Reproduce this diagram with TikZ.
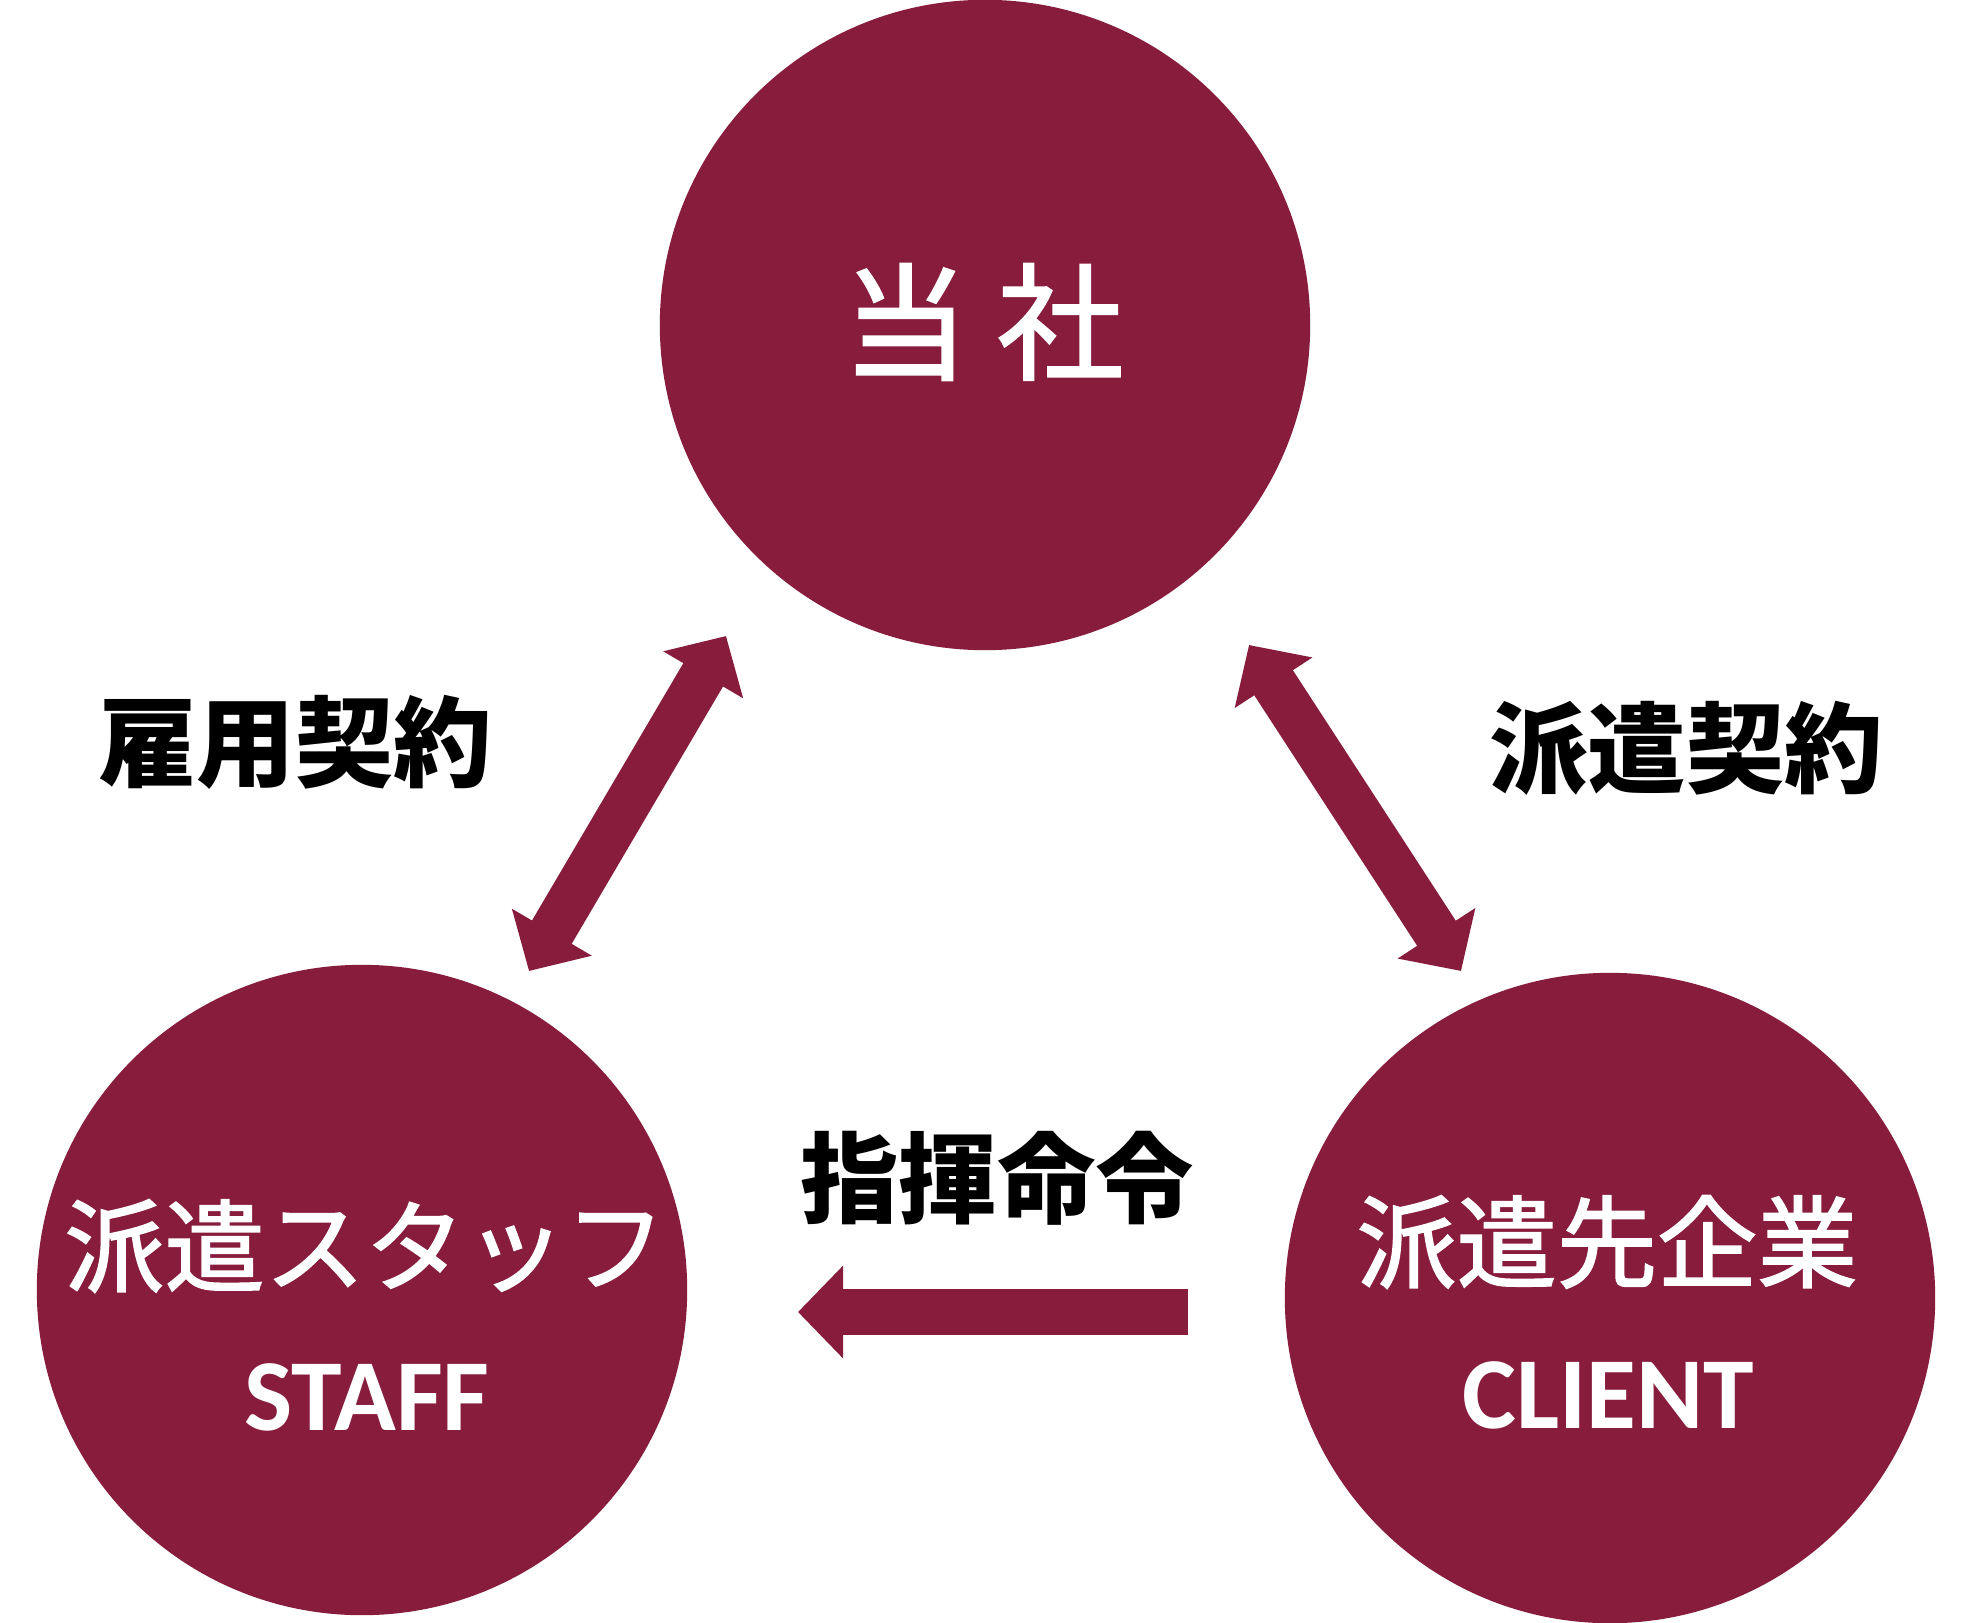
\documentclass[tikz,border=0pt]{standalone}
\usepackage{fontspec}
\usetikzlibrary{arrows.meta}
\newfontfamily\jpfont[FakeBold=1.6]{Noto Sans CJK JP}
\newfontfamily\jplabel{Noto Sans CJK JP}
\newfontfamily\enfont{Carlito}
\definecolor{wine}{RGB}{135,28,60}
\tikzset{
  disc/.style={circle, fill=wine, minimum size=6.5cm, inner sep=0pt},
  intext/.style={white, inner sep=0pt},
  outtext/.style={black, inner sep=0pt, font=\jplabel\bfseries\fontsize{28}{28}\selectfont},
  bigtip/.tip={Triangle[length=0.45cm, width=0.9cm]},
  bigarrow/.style={wine, line width=0.46cm, -bigtip},
  dblarrow/.style={wine, line width=0.46cm, bigtip-bigtip}
}

\begin{document}
\begin{tikzpicture}[x=0.01cm, y=-0.01cm]
\fill [white] (0,0) rectangle (1980,1622);
\useasboundingbox (0,0) rectangle (1980,1622);

% the three parties
\node [disc] (tosha) at (985,325) {};
\node [disc] (staff) at (362,1290) {};
\node [disc] (client) at (1610,1298) {};

\node [intext, font=\jpfont\fontsize{36}{36}\selectfont] (toshatxt) at (983,322) {当\hspace{0.28cm}社};
\node [intext, font=\jpfont\fontsize{28.5}{28.5}\selectfont] (stafftxt) at (365,1246) {派遣スタッフ};
\node [intext, font=\enfont\bfseries\fontsize{29}{29}\selectfont] (staffen) at (367,1397) {STAFF};
\node [intext, font=\jpfont\fontsize{28.5}{28.5}\selectfont] (clienttxt) at (1607,1242) {派遣先企業};
\node [intext, font=\enfont\bfseries\fontsize{29}{29}\selectfont] (clienten) at (1608,1395) {CLIENT};

% contracts
\coordinate (kyoA) at (529,971);
\coordinate (kyoB) at (726,636);
\draw [dblarrow] (kyoA) -- (kyoB);
\node [outtext] (koyo) at (295,742) {雇用契約};

\coordinate (hakA) at (1249,645);
\coordinate (hakB) at (1461,971);
\draw [dblarrow] (hakA) -- (hakB);
\node [outtext] (haken) at (1686,748) {派遣契約};

% instructions
\coordinate (shiA) at (1188,1312);
\coordinate (shiB) at (798,1312);
\draw [bigarrow] (shiA) -- (shiB);
\node [outtext] (shiki) at (997,1178) {指揮命令};

\end{tikzpicture}
\end{document}
